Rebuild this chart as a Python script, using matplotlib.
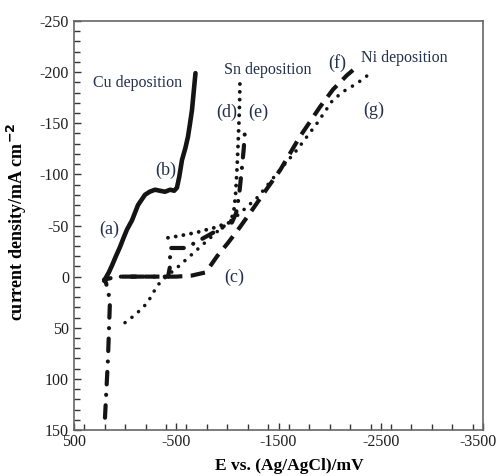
import matplotlib
matplotlib.use('Agg')
import matplotlib.pyplot as plt
from matplotlib.ticker import MultipleLocator
from matplotlib.transforms import ScaledTranslation

plt.rcParams['font.family'] = ['Liberation Serif', 'DejaVu Serif']
plt.rcParams['axes.unicode_minus'] = False

# Cu deposition (solid)
cu_E = [205, 160, 128, 90, 50, 15, -18, -67, -126, -194, -240, -292, -340,
        -390, -440, -480, -507, -530, -556, -590, -615, -635, -654, -670, -688]
cu_j = [4, -4, -11, -20, -29, -38, -46, -55, -70, -80, -83, -85, -84,
        -83, -85, -84, -87, -98, -114, -126, -137, -150, -163, -180, -199]

# Sn deposition (d), dotted
d_E = [-419, -480, -537, -640, -732, -800, -879, -960, -1026, -1045, -1065,
       -1080, -1094, -1105, -1114, -1120, -1123]
d_j = [-38, -39, -40, -42, -44, -46, -48, -51, -53, -58, -66,
       -80, -105, -130, -153, -172, -192]

# Sn deposition (e), dash-dot
e_E = [197, 168, 148, 187, 207, 120, 40, -100, -250, -420, -439, -440,
       -520, -586, -683, -879, -1045, -1085, -1115, -1140, -1160, -1172]
e_j = [138, 81, 23, 6, 3, 1, 0, 0, 0, 0, -10, -28,
       -28, -28, -33, -44, -53, -62, -80, -104, -125, -143]

# Ni deposition (f), dashed
f_E = [31, -100, -250, -341, -500, -650, -781, -830, -900, -1006, -1120,
       -1241, -1380, -1515, -1710, -1906, -2033, -2170, -2229]
f_j = [0, 0, 0, 0, 0, -1, -4, -10, -20, -33, -48,
       -65, -85, -104, -137, -166, -183, -197, -202]

# Ni deposition (g), dotted
g_E = [1, -77, -145, -214, -263, -312, -400, -500, -600, -700, -800, -900,
       -1000, -1100, -1200, -1300, -1485, -1681, -1877, -2033, -2150, -2268, -2414]
g_j = [45, 39, 33, 26, 18, 9, 0, -8, -17, -26, -35, -44,
       -52, -60, -69, -78, -101, -124, -150, -173, -182, -189, -200]

# annotations: text, E, j, size
labels = ["Cu deposition", "Sn deposition", "Ni deposition",
          "(a)", "(b)", "(c)", "(d)", "(e)", "(f)", "(g)"]
label_E = [-126, -1397, -2727, 158, -400, -1065, -996, -1300, -2072, -2434]
label_j = [-189, -202, -214, -46, -104, 1, -161, -161, -209, -163]
label_size = [11.5, 11.5, 11.5, 13, 13, 13, 13, 13, 13, 13]

fig = plt.figure(figsize=(4.98, 4.76), dpi=100)
ax = fig.add_axes([74 / 498, 1 - 430 / 476, 409 / 498, 409 / 476])

ink = '#141414'
ax.plot(cu_E, cu_j, color=ink, lw=3.3, solid_capstyle='round', solid_joinstyle='round')
ax.plot(d_E, d_j, color=ink, lw=2.8, linestyle=(0, (0.01, 2)), dash_capstyle='round')
ax.plot(e_E, e_j, color=ink, lw=3.0, linestyle=(0, (3, 2.5, 0.01, 2.5)), dash_capstyle='round')
ax.plot(f_E, f_j, color=ink, lw=3.0, linestyle=(0, (3.5, 2)), dash_capstyle='butt')
ax.plot(g_E, g_j, color=ink, lw=2.6, linestyle=(0, (0.01, 2.4)), dash_capstyle='round')

for t, x, y, s in zip(labels, label_E, label_j, label_size):
    ax.text(x, y, t, fontsize=s, color='#22304c', ha='center', va='center')

ax.set_xlim(500, -3500)
ax.set_ylim(150, -250)
ax.set_xticks([500, -500, -1500, -2500, -3500])
ax.xaxis.set_minor_locator(MultipleLocator(200))
ax.set_yticks(list(range(-250, 151, 50)))
ax.yaxis.set_minor_locator(MultipleLocator(10))
ax.tick_params(direction='in', which='both', top=False, right=False,
               labelsize=11.5, colors='#333333', labelcolor='#1e1e1e')
ax.tick_params(which='major', length=5, width=1)
ax.tick_params(which='minor', length=4, width=1)
ax.tick_params(axis='x', pad=3)
for sp in ax.spines.values():
    sp.set_color('#666666')
    sp.set_linewidth(1.2)
# last x tick label sits at the figure edge, pull it in slightly
xl = ax.get_xticklabels()
xl[-1].set_horizontalalignment('right')
xl[-1].set_transform(xl[-1].get_transform() + ScaledTranslation(0.135, 0, fig.dpi_scale_trans))

ax.set_xlabel("E vs. (Ag/AgCl)/mV", fontsize=12.5, fontweight='bold')
ax.set_ylabel("current density/mA cm$^{\\mathbf{-2}}$", fontsize=13, fontweight='bold')
ax.xaxis.set_label_coords((289 - 74) / 409, -(458 - 430) / 409)
ax.yaxis.set_label_coords(-(74 - 29) / 409, (430 - 222) / 409)

fig.savefig('out.png', dpi=100)
